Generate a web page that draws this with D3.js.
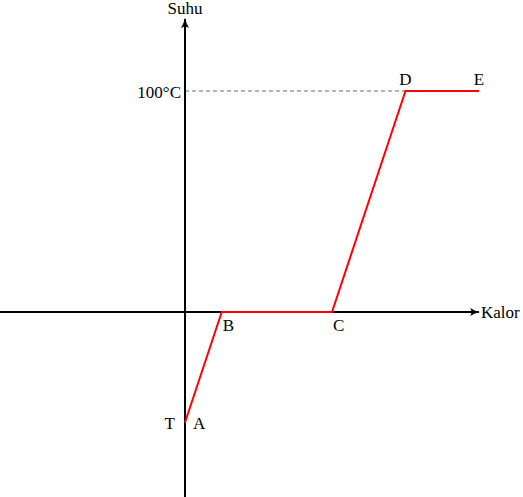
<!DOCTYPE html>
<html>
<head>
<meta charset="utf-8">
<script src="https://cdn.jsdelivr.net/npm/d3@7"></script>
<style>
  html, body { margin: 0; padding: 0; background: #fff; }
  svg { display: block; }
  text { font-family: "Liberation Serif", "DejaVu Serif", serif; font-size: 17px; fill: #000; }
</style>
</head>
<body>
<svg id="chart" width="523" height="497"></svg>
<script>
// ---- data ----
const pointLabels = ["A", "B", "C", "D", "E"];
const kalorValues = [0, 1, 4, 6, 8];
const suhuValues = [-50, 0, 0, 100, 100];
const yTickValues = [100, -50];
const yTickLabels = ["100°C", "T"];
const axisTitles = ["Kalor", "Suhu"];

// ---- layout ----
const W = 523, H = 497;
const svg = d3.select("#chart");
const x = d3.scaleLinear().domain([0, 8]).range([185, 479]);
const y = d3.scaleLinear().domain([0, 100]).range([312, 91]);

const defs = svg.append("defs");
defs.append("marker")
  .attr("id", "arr")
  .attr("viewBox", "0 0 10 10")
  .attr("refX", 9).attr("refY", 5)
  .attr("markerWidth", 5).attr("markerHeight", 5)
  .attr("markerUnits", "strokeWidth")
  .attr("orient", "auto")
  .append("path")
  .attr("d", "M0,1 Q5,4 10,5 Q5,6 0,9 Q3,5 0,1 Z")
  .attr("fill", "#000");

// dashed guide at 100
svg.append("line")
  .attr("x1", x(0)).attr("x2", x(8))
  .attr("y1", y(100)).attr("y2", y(100))
  .attr("stroke", "#444").attr("stroke-width", 0.8)
  .attr("stroke-dasharray", "4,3");

// axes
svg.append("line")
  .attr("x1", 0).attr("x2", x(8))
  .attr("y1", y(0)).attr("y2", y(0))
  .attr("stroke", "#000").attr("stroke-width", 2)
  .attr("marker-end", "url(#arr)");
svg.append("line")
  .attr("x1", x(0)).attr("x2", x(0))
  .attr("y1", H).attr("y2", 19)
  .attr("stroke", "#000").attr("stroke-width", 2)
  .attr("marker-end", "url(#arr)");

// data line
const pts = kalorValues.map((k, i) => ({ k, s: suhuValues[i], label: pointLabels[i] }));
svg.append("path")
  .datum(pts)
  .attr("d", d3.line().x(d => x(d.k)).y(d => y(d.s)))
  .attr("fill", "none")
  .attr("stroke", "#ff0000")
  .attr("stroke-width", 2)
  .attr("stroke-linejoin", "miter");

// point labels
const labelPos = {
  A: { dx: 8, dy: 1, anchor: "start" },
  B: { dx: 1, dy: 13, anchor: "start" },
  C: { dx: 1, dy: 13, anchor: "start" },
  D: { dx: 0, dy: -12, anchor: "middle" },
  E: { dx: 0, dy: -12, anchor: "middle" }
};
svg.selectAll("text.pt")
  .data(pts)
  .enter().append("text")
  .attr("class", "pt")
  .attr("x", d => x(d.k) + labelPos[d.label].dx)
  .attr("y", d => y(d.s) + labelPos[d.label].dy)
  .attr("text-anchor", d => labelPos[d.label].anchor)
  .attr("dominant-baseline", "central")
  .text(d => d.label);

// y tick labels
const tickGap = [4, 10];
svg.selectAll("text.yt")
  .data(yTickValues)
  .enter().append("text")
  .attr("class", "yt")
  .attr("x", (d, i) => x(0) - tickGap[i])
  .attr("y", d => y(d) + 1)
  .attr("text-anchor", "end")
  .attr("dominant-baseline", "central")
  .text((d, i) => yTickLabels[i]);

// axis titles
svg.append("text")
  .attr("x", x(8) + 2).attr("y", y(0))
  .attr("dominant-baseline", "central")
  .text(axisTitles[0]);
svg.append("text")
  .attr("x", x(0)).attr("y", 14)
  .attr("text-anchor", "middle")
  .text(axisTitles[1]);
</script>
</body>
</html>
